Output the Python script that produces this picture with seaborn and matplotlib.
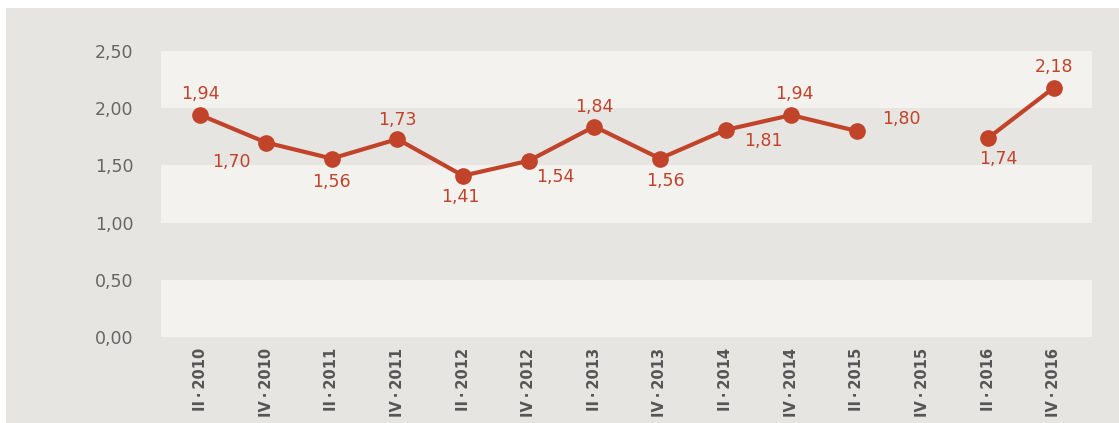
import numpy as np
import pandas as pd
import seaborn as sns
import matplotlib.pyplot as plt
from matplotlib.patches import Rectangle

# data
quarters = ['II · 2010', 'IV · 2010', 'II · 2011', 'IV · 2011', 'II · 2012', 'IV · 2012',
            'II · 2013', 'IV · 2013', 'II · 2014', 'IV · 2014', 'II · 2015', 'IV · 2015',
            'II · 2016', 'IV · 2016']
values = [1.94, 1.70, 1.56, 1.73, 1.41, 1.54, 1.84, 1.56, 1.81, 1.94, 1.80, np.nan, 1.74, 2.18]
# label offsets in points (dx, dy)
label_offsets = [(0, 15), (-25, -14), (0, -17), (0, 14), (-2, -15), (19, -12), (0, 14),
                 (4, -16), (27, -8), (2, 15), (32, 9), None, (7, -15), (0, 15)]

df = pd.DataFrame({'x': np.arange(len(quarters)), 'value': values})
# split into segments at missing values so the line breaks there
df['segment'] = df['value'].isna().cumsum()
df = df.dropna()

sns.set_style("white")
plt.rcParams['font.family'] = ['DejaVu Sans']

bg = '#e7e5e1'
light = '#f4f2ef'
red = '#c0432a'

fig = plt.figure(figsize=(11.19, 4.23), dpi=100, facecolor='white')
fig.patches.append(Rectangle((6 / 1119, 0), 1, 1 - 8 / 423, transform=fig.transFigure,
                             facecolor=bg, edgecolor='none', zorder=-10))
ax = fig.add_axes([161 / 1119, 1 - 337 / 423, (1092 - 161) / 1119, (337 - 51) / 423])
ax.set_facecolor(bg)

for lo in [0.0, 1.0, 2.0]:
    ax.axhspan(lo, lo + 0.5, color=light, zorder=0, lw=0)

sns.lineplot(data=df, x='x', y='value', units='segment', estimator=None, ax=ax,
             color=red, lw=3, marker='o', markersize=12, markeredgewidth=0, zorder=3)

for i, (v, off) in enumerate(zip(values, label_offsets)):
    if off is None or np.isnan(v):
        continue
    ax.annotate(f'{v:.2f}'.replace('.', ','), (i, v), xytext=off, textcoords='offset points',
                ha='center', va='center', color=red, fontsize=12.5)

ax.set_xlim(-0.6, 13.58)
ax.set_ylim(0, 2.5)
ax.set_yticks(np.arange(0, 2.51, 0.5))
ax.set_yticklabels([f'{t:.2f}'.replace('.', ',') for t in np.arange(0, 2.51, 0.5)],
                   color='#666666', fontsize=12.5)
ax.set_xticks(range(len(quarters)))
ax.set_xticklabels([q.replace(' ', '\u2009') for q in quarters], rotation=90, fontsize=10.5,
                   fontweight='bold', color='#555555')
ax.tick_params(axis='y', length=0, pad=20)
ax.tick_params(axis='x', length=0, pad=8)
ax.set_xlabel('')
ax.set_ylabel('')
for s in ax.spines.values():
    s.set_visible(False)

fig.savefig('out.png', dpi=100, facecolor=fig.get_facecolor())
